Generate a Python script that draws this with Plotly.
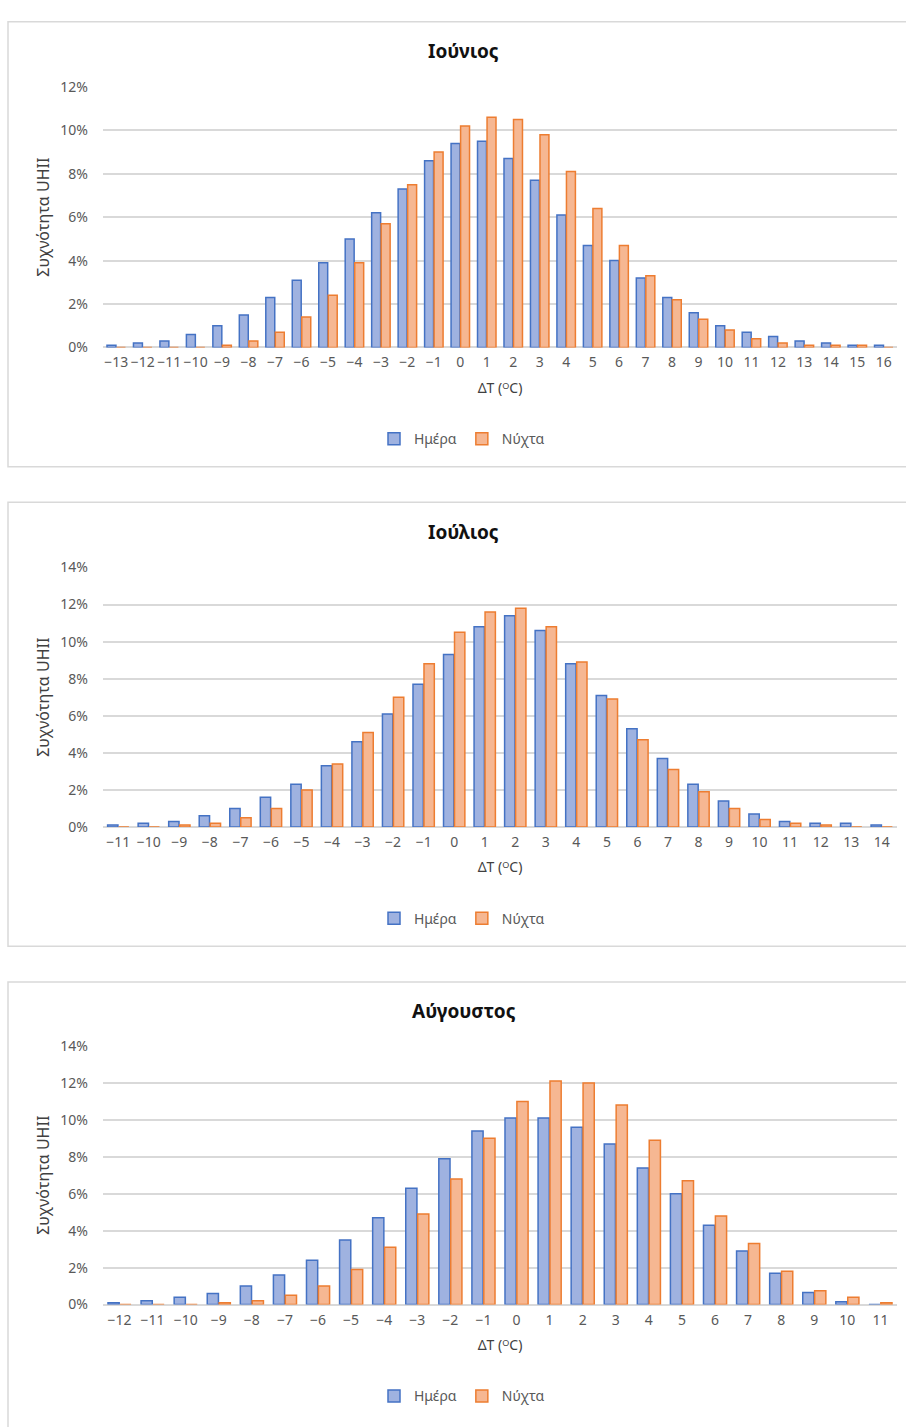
import plotly.graph_objects as go

# ΔT classes (°C) for each month
dt_jun = list(range(-13, 17))
dt_jul = list(range(-11, 15))
dt_aug = list(range(-12, 12))

# Frequency (%) of UHII, daytime and night-time
jun_day = [0.1, 0.2, 0.3, 0.6, 1.0, 1.5, 2.3, 3.1, 3.9, 5.0, 6.2, 7.3, 8.6,
           9.4, 9.5, 8.7, 7.7, 6.1, 4.7, 4.0, 3.2, 2.3, 1.6, 1.0, 0.7, 0.5,
           0.3, 0.2, 0.1, 0.1]
jun_night = [0, 0, 0, 0, 0.1, 0.3, 0.7, 1.4, 2.4, 3.9, 5.7, 7.5, 9.0,
             10.2, 10.6, 10.5, 9.8, 8.1, 6.4, 4.7, 3.3, 2.2, 1.3, 0.8, 0.4,
             0.2, 0.1, 0.1, 0.1, 0]

jul_day = [0.1, 0.2, 0.3, 0.6, 1.0, 1.6, 2.3, 3.3, 4.6, 6.1, 7.7, 9.3,
           10.8, 11.4, 10.6, 8.8, 7.1, 5.3, 3.7, 2.3, 1.4, 0.7, 0.3, 0.2,
           0.2, 0.1]
jul_night = [0, 0, 0.1, 0.2, 0.5, 1.0, 2.0, 3.4, 5.1, 7.0, 8.8, 10.5,
             11.6, 11.8, 10.8, 8.9, 6.9, 4.7, 3.1, 1.9, 1.0, 0.4, 0.2, 0.1,
             0, 0]

aug_day = [0.1, 0.2, 0.4, 0.6, 1.0, 1.6, 2.4, 3.5, 4.7, 6.3, 7.9, 9.4,
           10.1, 10.1, 9.6, 8.7, 7.4, 6.0, 4.3, 2.9, 1.7, 0.65, 0.15, 0]
aug_night = [0, 0, 0, 0.1, 0.2, 0.5, 1.0, 1.9, 3.1, 4.9, 6.8, 9.0,
             11.0, 12.1, 12.0, 10.8, 8.9, 6.7, 4.8, 3.3, 1.8, 0.75, 0.4, 0.1]

months = ["Ιούνιος", "Ιούλιος", "Αύγουστος"]
series_names = ["Ημέρα", "Νύχτα"]
y_max = [12, 14, 14]
y_title = "Συχνότητα UHII"
x_title = "ΔT (\u1d3cC)"


def tick_labels(values):
    return [str(v).replace("-", "\u2212") for v in values]


W, H = 906, 1427
FONT = "Noto Sans"
DAY_FILL, DAY_LINE = "#9fb2e0", "#4472c4"
NIGHT_FILL, NIGHT_LINE = "#f6b792", "#ed7d31"
GRID = "#d9d9d9"

# pixel geometry of each panel: (box top, box bottom, plot top, plot bottom)
panels = [(12, 463, 78, 342), (499, 949, 565, 828), (985, 1440, 1050, 1312)]
plot_left, plot_right = 103, 897


def px_x(p):
    return p / W


def px_y(p):
    return 1 - p / H


data = [(dt_jun, jun_day, jun_night), (dt_jul, jul_day, jul_night),
        (dt_aug, aug_day, aug_night)]

fig = go.Figure()
layout = dict(
    width=W, height=H, autosize=False,
    margin=dict(l=0, r=0, t=0, b=0),
    paper_bgcolor="white", plot_bgcolor="white",
    barmode="group", bargap=0.28, bargroupgap=0.06,
    font=dict(family=FONT, size=14, color="#595959"),
)
shapes, annotations = [], []

for i, ((dts, day, night), month, ymax, geom) in enumerate(
        zip(data, months, y_max, panels)):
    n = "" if i == 0 else str(i + 1)
    box_top, box_bot, p_top, p_bot = geom
    cats = tick_labels(dts)
    leg = "legend" + n
    fig.add_trace(go.Bar(
        x=cats, y=day, name=series_names[0], xaxis="x" + n, yaxis="y" + n,
        legend=leg, marker=dict(color=DAY_FILL, line=dict(color=DAY_LINE, width=1.5)),
        hovertemplate="%{x}: %{y}%<extra>" + series_names[0] + "</extra>"))
    fig.add_trace(go.Bar(
        x=cats, y=night, name=series_names[1], xaxis="x" + n, yaxis="y" + n,
        legend=leg, marker=dict(color=NIGHT_FILL, line=dict(color=NIGHT_LINE, width=1.5)),
        hovertemplate="%{x}: %{y}%<extra>" + series_names[1] + "</extra>"))

    layout["xaxis" + n] = dict(
        domain=[px_x(plot_left), px_x(plot_right)], anchor="y" + n,
        type="category", categoryorder="array", categoryarray=cats,
        showgrid=False, showline=False, zeroline=False, ticks="", tickangle=0,
        ticklabelstandoff=5, tickfont=dict(family=FONT, size=14, color="#595959"),
        title=dict(text=x_title, standoff=12,
                   font=dict(family=FONT, size=14, color="#404040")),
        fixedrange=True)
    layout["yaxis" + n] = dict(
        domain=[px_y(p_bot), px_y(p_top)], anchor="x" + n,
        range=[0, ymax], tickmode="linear", tick0=0, dtick=2, ticksuffix="%",
        showgrid=True, gridcolor=GRID, gridwidth=1.5,
        zeroline=True, zerolinecolor=GRID, zerolinewidth=1.5,
        showline=False, ticks="", ticklabelstandoff=14,
        tickfont=dict(family=FONT, size=14, color="#595959"),
        title=dict(text=y_title, standoff=6,
                   font=dict(family=FONT, size=16, color="#404040")),
        fixedrange=True)
    layout[leg] = dict(
        orientation="h", x=px_x(462), y=px_y(p_bot + 93),
        xanchor="center", yanchor="middle", itemwidth=30,
        font=dict(family=FONT, size=14, color="#595959"), traceorder="normal",
        bgcolor="rgba(0,0,0,0)")

    # chart frame
    shapes.append(dict(type="rect", xref="paper", yref="paper",
                       x0=px_x(8), x1=px_x(W + 10), y0=px_y(box_bot), y1=px_y(box_top),
                       line=dict(color=GRID, width=1.5), fillcolor="rgba(0,0,0,0)",
                       layer="below"))
    # chart title
    annotations.append(dict(text="<b>" + month + "</b>", xref="paper", yref="paper",
                            x=px_x(464), y=px_y(box_top + 30), showarrow=False,
                            xanchor="center", yanchor="middle",
                            font=dict(size=19, color="#111111", family=FONT)))

layout["shapes"] = shapes
layout["annotations"] = annotations
fig.update_layout(**layout)

fig.write_html("out.html")
